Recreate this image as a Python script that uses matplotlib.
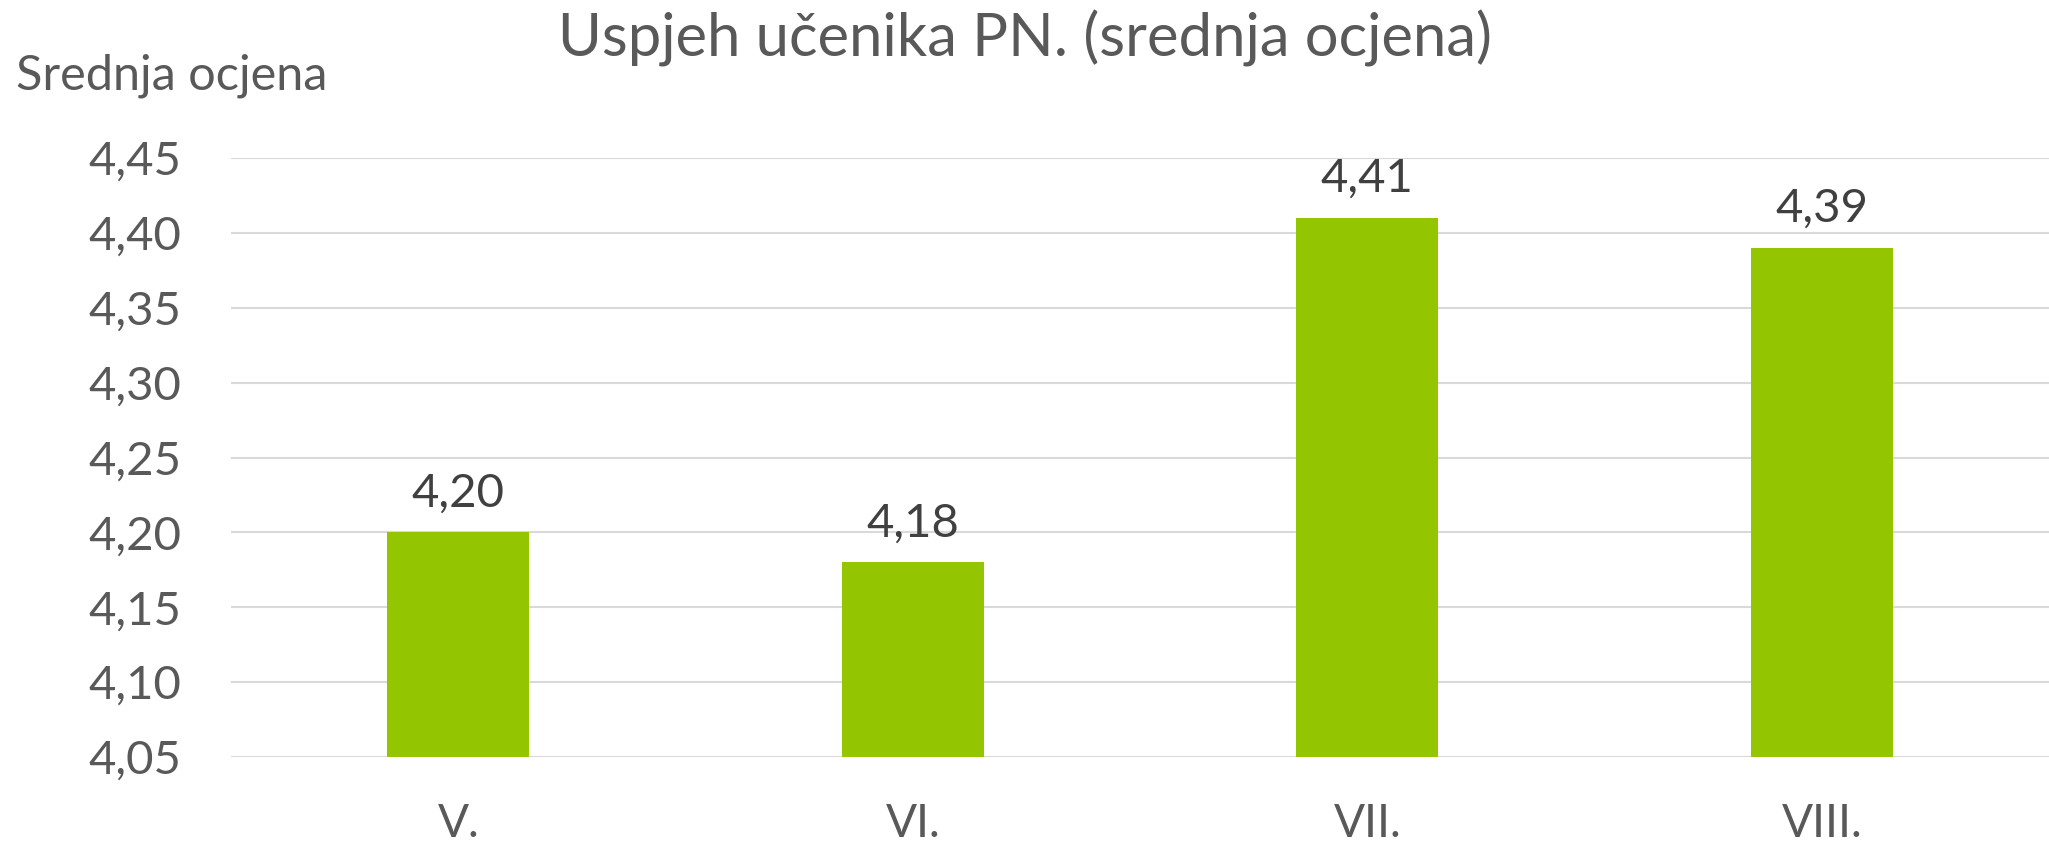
import numpy as np
import matplotlib
matplotlib.use('Agg')
import matplotlib.pyplot as plt

grades = ["V.", "VI.", "VII.", "VIII."]
averages = [4.20, 4.18, 4.41, 4.39]
y_ticks = [4.05, 4.10, 4.15, 4.20, 4.25, 4.30, 4.35, 4.40, 4.45]

plt.rcParams['font.family'] = ['Lato', 'DejaVu Sans']

W, H = 2049, 847
fig = plt.figure(figsize=(W / 100, H / 100), dpi=100)
ax = fig.add_axes([231 / W, 90 / H, (W - 231) / W, (757 - 158) / H])

x = np.arange(len(grades))
bars = ax.bar(x, averages, width=0.313, color="#94C600", zorder=3)

ax.set_xlim(-0.5, len(grades) - 0.5)
ax.set_ylim(y_ticks[0], y_ticks[-1])
ax.set_yticks(y_ticks)
ax.set_yticklabels([f"{v:.2f}".replace(".", ",") for v in y_ticks])
ax.set_xticks(x)
ax.set_xticklabels(grades)

ax.grid(axis="y", color="#D9D9D9", linewidth=1.5, zorder=0)
for s in ax.spines.values():
    s.set_visible(False)
ax.tick_params(axis="y", length=0, labelsize=34, labelcolor="#595959", pad=36)
ax.tick_params(axis="x", length=0, labelsize=33, labelcolor="#595959", pad=33)

# value labels above bars
for b, v in zip(bars, averages):
    ax.annotate(f"{v:.2f}".replace(".", ","), (b.get_x() + b.get_width() / 2, v),
                xytext=(0, 13), textcoords="offset points",
                ha="center", va="bottom", fontsize=34, color="#404040")

fig.text(0.5, 1 - 38 / H, "Uspjeh učenika PN. (srednja ocjena)",
         ha="center", va="center", fontsize=43, color="#595959")
fig.text(16 / W, 1 - 76 / H, "Srednja ocjena",
         ha="left", va="center", fontsize=35, color="#595959")

fig.savefig("out.png", dpi=100)
